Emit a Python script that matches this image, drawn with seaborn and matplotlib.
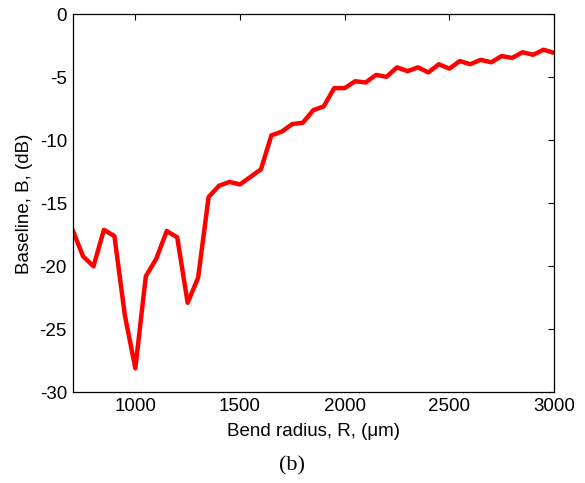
import numpy as np
import pandas as pd
import matplotlib
matplotlib.use("Agg")
import matplotlib.pyplot as plt
import seaborn as sns

# Bend radius (um) and baseline (dB)
radius = [700, 750, 800, 850, 900, 950, 1000, 1050, 1100, 1150,
          1200, 1250, 1300, 1350, 1400, 1450, 1500, 1550, 1600, 1650,
          1700, 1750, 1800, 1850, 1900, 1950, 2000, 2050, 2100, 2150,
          2200, 2250, 2300, 2350, 2400, 2450, 2500, 2550, 2600, 2650,
          2700, 2750, 2800, 2850, 2900, 2950, 3000]
baseline = [-17.1, -19.2, -20.0, -17.1, -17.6, -23.9, -28.1, -20.8, -19.4, -17.2,
            -17.7, -22.9, -20.9, -14.5, -13.6, -13.3, -13.5, -12.9, -12.3, -9.6,
            -9.3, -8.7, -8.6, -7.6, -7.3, -5.85, -5.85, -5.3, -5.4, -4.8,
            -4.95, -4.2, -4.5, -4.2, -4.6, -3.95, -4.3, -3.7, -3.95, -3.6,
            -3.8, -3.3, -3.45, -3.0, -3.2, -2.8, -3.05]

xticks = [1000, 1500, 2000, 2500, 3000]
yticks = [-30, -25, -20, -15, -10, -5, 0]

df = pd.DataFrame({"R": radius, "B": baseline})

sns.set_style("white")
plt.rcParams['font.family'] = ['Liberation Sans', 'DejaVu Sans']
plt.rcParams['axes.unicode_minus'] = False
plt.rcParams['text.color'] = 'black'
plt.rcParams['axes.labelcolor'] = 'black'

fig = plt.figure(figsize=(5.85, 4.83), dpi=100)
ax = fig.add_axes([0.124, 0.188, 0.823, 0.782])

sns.lineplot(data=df, x="R", y="B", color="#ff0000", linewidth=3.2, ax=ax)

ax.set_xlim(700, 3000)
ax.set_ylim(-30, 0)
ax.set_xticks(xticks)
ax.set_yticks(yticks)
ax.tick_params(direction="in", top=True, right=True, length=4, width=0.8,
               labelsize=13.5, colors="black", pad=4)
for s in ax.spines.values():
    s.set_color("black")
    s.set_linewidth(0.9)

ax.set_xlabel("Bend radius, R, (\u03bcm)", fontsize=13.5, labelpad=6)
ax.set_ylabel("Baseline, B, (dB)", fontsize=13.5, labelpad=5)

fig.text(0.5, 0.035, "(b)", ha="center", va="center", fontsize=16,
         family=["Liberation Serif", "DejaVu Serif"])

fig.savefig("out.png", dpi=100)
